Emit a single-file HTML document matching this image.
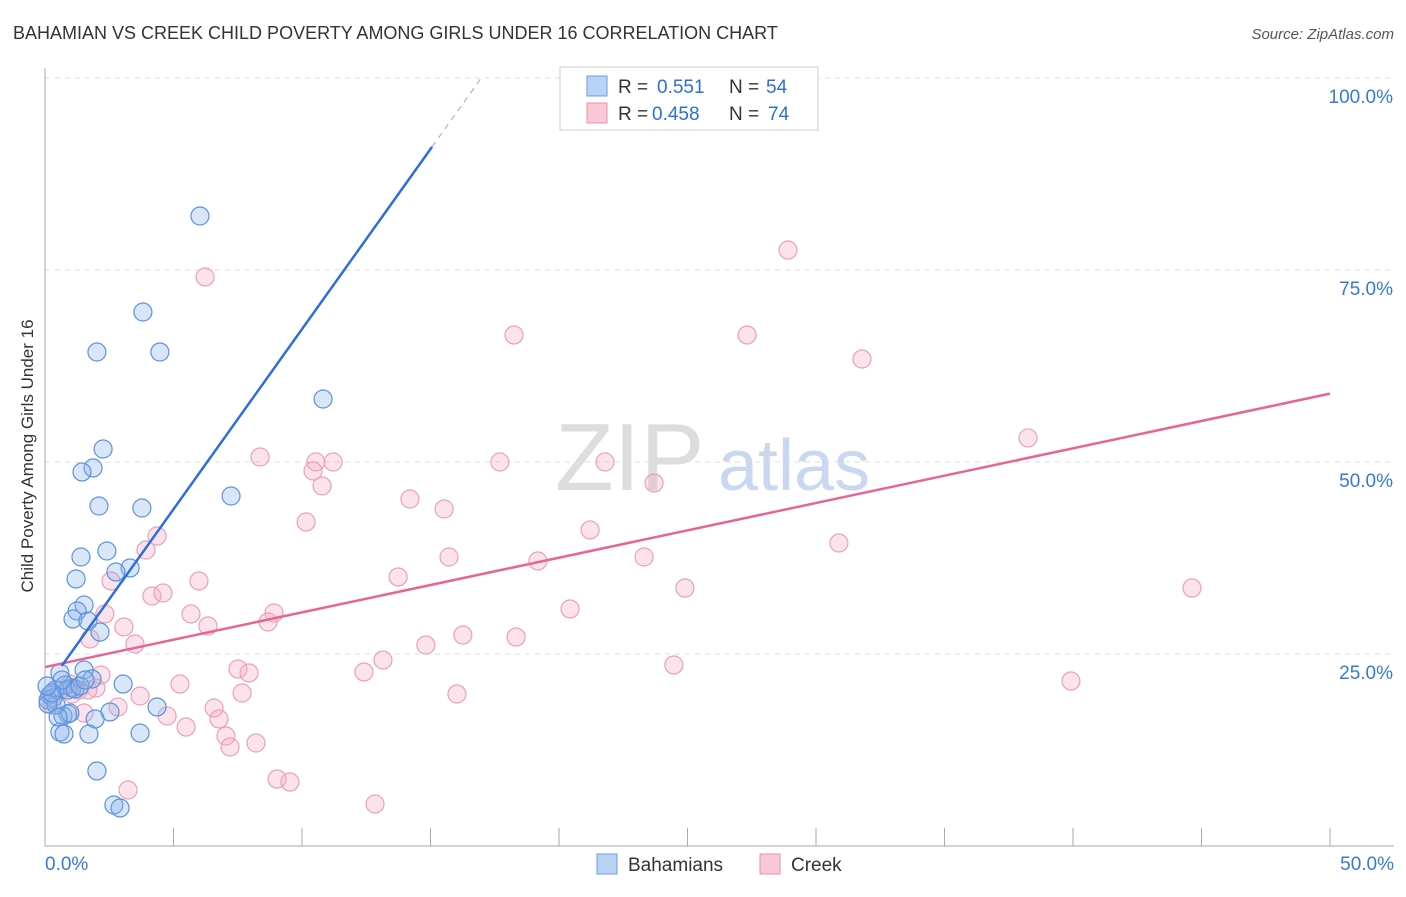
<!DOCTYPE html>
<html><head><meta charset="utf-8"><style>
body{margin:0;background:#fff;font-family:"Liberation Sans",sans-serif;}
svg text{font-family:"Liberation Sans",sans-serif;}
</style></head><body>
<svg id="chart" width="1406" height="892" xmlns="http://www.w3.org/2000/svg">
<text x="13" y="39" font-size="18" fill="#333">BAHAMIAN VS CREEK CHILD POVERTY AMONG GIRLS UNDER 16 CORRELATION CHART</text>
<text x="1394" y="39" font-size="15" fill="#555" text-anchor="end" font-style="italic">Source: ZipAtlas.com</text>
<text transform="translate(33,456) rotate(-90)" font-size="17" fill="#333" text-anchor="middle">Child Poverty Among Girls Under 16</text>
<g><text x="555" y="490" font-size="96" fill="#ddd" font-family="Liberation Serif">ZIP</text><text x="718" y="490" font-size="72" fill="#c9d8f0">atlas</text></g>
<g id="grid"></g><g id="axes"></g><g id="pts"></g><g id="lines"></g>
<g>
<rect x="560" y="67" width="258" height="63" fill="#fff" stroke="#ccc"/>
<rect x="587" y="76" width="20" height="20" fill="#b9d3f5" stroke="#6a9ee6"/>
<text x="618" y="93" font-size="19" fill="#333">R =</text>
<text x="657" y="93" font-size="19" fill="#2d6fd6">0.551</text>
<text x="729" y="93" font-size="19" fill="#333">N =</text>
<text x="766" y="93" font-size="19" fill="#2d6fd6">54</text>
<rect x="587" y="103" width="20" height="20" fill="#f9c8d6" stroke="#e892ad"/>
<text x="618" y="120" font-size="19" fill="#333">R =</text>
<text x="652" y="120" font-size="19" fill="#2d6fd6">0.458</text>
<text x="729" y="120" font-size="19" fill="#333">N =</text>
<text x="768" y="120" font-size="19" fill="#2d6fd6">74</text>
</g>
<g>
<rect x="597" y="854" width="20" height="20" fill="#b9d3f5" stroke="#6a9ee6"/>
<text x="628" y="871" font-size="19" fill="#333">Bahamians</text>
<rect x="760" y="854" width="20" height="20" fill="#f9c8d6" stroke="#e892ad"/>
<text x="791" y="871" font-size="19" fill="#333">Creek</text>
</g>
</svg>
<script>
const yTicks=[25,50,75,100];
const yTickLabels=["25.0%","50.0%","75.0%","100.0%"];
const xTickLabels=["0.0%","50.0%"];
const bahamiansPx=[[200,216],[143,312],[97,352],[160,352],[323,399],[103,449],[93,468],[82,472],[99,506],[142,508],[231,496],[107,551],[81,557],[130,568],[116,572],[76,579],[84,605],[77,611],[73,619],[88,621],[100,632],[84,670],[60,673],[123,684],[92,679],[72,688],[65,685],[55,690],[50,695],[48,700],[53,698],[157,707],[110,712],[95,719],[68,714],[63,716],[60,732],[64,734],[89,734],[140,733],[97,771],[114,805],[120,808],[56,705],[48,704],[68,690],[75,689],[80,686],[62,680],[52,693],[70,713],[58,717],[47,686],[85,680]];
const creekPx=[[788,250],[205,277],[514,335],[747,335],[862,359],[1028,438],[260,457],[316,462],[333,462],[500,462],[605,462],[313,471],[322,486],[410,499],[654,483],[444,509],[306,522],[590,530],[157,536],[146,550],[839,543],[449,557],[538,561],[644,557],[199,581],[111,581],[398,577],[685,588],[1192,588],[152,596],[163,593],[570,609],[105,614],[191,614],[274,613],[268,622],[208,626],[124,627],[463,635],[516,637],[90,639],[135,644],[426,645],[383,660],[674,665],[238,669],[249,673],[364,672],[101,675],[180,684],[1071,681],[96,688],[79,690],[72,694],[457,694],[242,693],[140,696],[214,708],[167,716],[118,707],[186,727],[219,719],[226,736],[230,747],[256,743],[84,713],[277,779],[290,782],[128,790],[375,804],[52,705],[60,690],[70,684],[88,690]];
const bahamiansX=bahamiansPx.map(p=>+((p[0]-45)/25.7).toFixed(2));
const bahamiansY=bahamiansPx.map(p=>+((846-p[1])/7.68).toFixed(2));
const creekX=creekPx.map(p=>+((p[0]-45)/25.7).toFixed(2));
const creekY=creekPx.map(p=>+((846-p[1])/7.68).toFixed(2));
const blueFit=[20.4,4.69]; const pinkFit=[23.3,0.712];
const X=v=>45+v*25.7, Y=v=>846-v*7.68;
const NS="http://www.w3.org/2000/svg";
function mk(t,a,p){const e=document.createElementNS(NS,t);for(const k in a)e.setAttribute(k,a[k]);p.appendChild(e);return e;}
const grid=document.getElementById('grid'),axes=document.getElementById('axes'),pts=document.getElementById('pts'),lines=document.getElementById('lines');
yTicks.forEach((t,i)=>{
 const g=mk('line',{x1:45,x2:1394,y1:Y(t),y2:Y(t),stroke:'#ddd','stroke-dasharray':'5,5'},grid);
 
 
 const tx=mk('text',{x:1393,y:Y(t)+25,'font-size':19,fill:'#3a78d8','text-anchor':'end'},axes);
 tx.textContent=yTickLabels[i];
 
 
});
const ax=mk('line',{x1:45,x2:45,y1:68,y2:846,stroke:'#aaa'},axes);


const bx=mk('line',{x1:45,x2:1394,y1:846,y2:846,stroke:'#aaa'},axes);


for(let i=1;i<=10;i++){const t=mk('line',{x1:X(i*5),x2:X(i*5),y1:828,y2:846,stroke:'#aaa'},axes);
 
 }
[[0,'start',45],[50,'end',1394]].forEach((d,i)=>{const t=mk('text',{x:d[2],y:870,'font-size':19,fill:'#3a78d8','text-anchor':d[1]},axes);t.textContent=xTickLabels[i];
 
 });
creekX.forEach((x,i)=>{const c=mk('circle',{cx:X(x),cy:Y(creekY[i]),r:9,fill:'rgba(246,170,195,0.33)',stroke:'#eba0b8','stroke-width':1.2},pts);
 
 });
bahamiansX.forEach((x,i)=>{const c=mk('circle',{cx:X(x),cy:Y(bahamiansY[i]),r:9,fill:'rgba(140,180,235,0.33)',stroke:'#5b93e0','stroke-width':1.2},pts);
 
 });
const pl=mk('line',{x1:X(0),y1:Y(pinkFit[0]),x2:X(50),y2:Y(pinkFit[0]+50*pinkFit[1]),stroke:'#e66596','stroke-width':2.5},lines);


const bl=mk('line',{x1:X(0.65),y1:Y(blueFit[0]+0.65*blueFit[1]),x2:X(15.06),y2:Y(blueFit[0]+15.06*blueFit[1]),stroke:'#2b6fd8','stroke-width':2.5},lines);


const bd=mk('line',{x1:X(15.06),y1:Y(blueFit[0]+15.06*blueFit[1]),x2:X(16.97),y2:Y(blueFit[0]+16.97*blueFit[1]),stroke:'#9bb8e6','stroke-width':1.2,'stroke-dasharray':'6,5'},lines);


</script>
</body></html>
